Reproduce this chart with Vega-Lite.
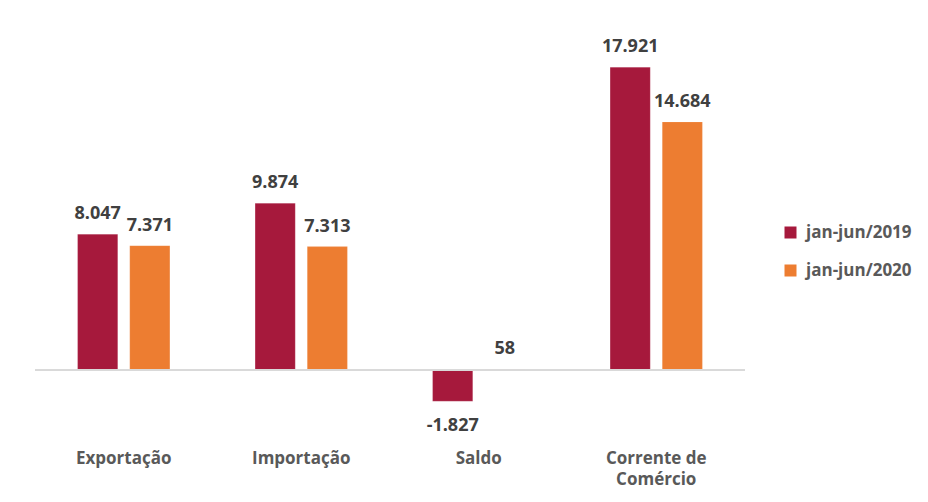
{
  "$schema": "https://vega.github.io/schema/vega-lite/v6.json",
  "autosize": "none",
  "width": 710,
  "height": 406,
  "padding": {"left": 35, "top": 32, "right": 183, "bottom": 64},
  "background": "white",
  "config": {
    "view": {"stroke": null},
    "font": "Open Sans",
    "locale": {"number": {"decimal": ",", "thousands": ".", "grouping": [3], "currency": ["R$", ""], "minus": "-"}}
  },
  "data": {
    "values": [
      {"categoria": "Exportação", "periodo": "jan-jun/2019", "valor": 8047},
      {"categoria": "Exportação", "periodo": "jan-jun/2020", "valor": 7371},
      {"categoria": "Importação", "periodo": "jan-jun/2019", "valor": 9874},
      {"categoria": "Importação", "periodo": "jan-jun/2020", "valor": 7313},
      {"categoria": "Saldo", "periodo": "jan-jun/2019", "valor": -1827},
      {"categoria": "Saldo", "periodo": "jan-jun/2020", "valor": 58},
      {"categoria": "Corrente de Comércio", "periodo": "jan-jun/2019", "valor": 17921},
      {"categoria": "Corrente de Comércio", "periodo": "jan-jun/2020", "valor": 14684}
    ]
  },
  "encoding": {
    "x": {
      "field": "categoria", "type": "nominal", "sort": null,
      "scale": {"paddingInner": 0.48, "paddingOuter": 0.24},
      "axis": {
        "title": null, "domain": false, "ticks": false, "labelAngle": 0,
        "labelPadding": 12, "labelFontSize": 17, "labelFontWeight": "bold",
        "labelColor": "#595959", "labelLineHeight": 21,
        "labelExpr": "datum.label == 'Corrente de Comércio' ? ['Corrente de', 'Comércio'] : datum.label"
      }
    },
    "xOffset": {
      "field": "periodo", "type": "nominal",
      "scale": {"paddingInner": 0.23, "paddingOuter": 0}
    },
    "y": {
      "field": "valor", "type": "quantitative",
      "scale": {"domain": [-4000, 20000], "nice": false, "zero": true},
      "axis": null
    }
  },
  "layer": [
    {
      "mark": {"type": "bar", "stroke": "white", "strokeOpacity": 0.3, "strokeWidth": 0.5},
      "encoding": {
        "color": {
          "field": "periodo", "type": "nominal",
          "scale": {"domain": ["jan-jun/2019", "jan-jun/2020"], "range": ["#A6193C", "#ED7D31"]},
          "legend": {
            "title": null, "orient": "none", "legendX": 747, "legendY": 192,
            "symbolType": "square", "symbolSize": 144, "symbolStrokeWidth": 0,
            "labelFontSize": 17, "labelFontWeight": "bold", "labelColor": "#595959",
            "rowPadding": 20, "symbolOffset": 0, "labelOffset": 7
          }
        }
      }
    },
    {
      "mark": {"type": "rule", "color": "#D9D9D9", "strokeWidth": 1.5},
      "encoding": {"y": {"datum": 0}, "x": null, "xOffset": null}
    },
    {
      "transform": [{"filter": "datum.valor >= 0"}],
      "mark": {"type": "text", "baseline": "bottom", "dy": -11, "fontSize": 18, "fontWeight": "bold", "color": "#404040"},
      "encoding": {"text": {"field": "valor", "type": "quantitative", "format": ",d"}}
    },
    {
      "transform": [{"filter": "datum.valor < 0"}],
      "mark": {"type": "text", "baseline": "top", "dy": 16, "fontSize": 18, "fontWeight": "bold", "color": "#404040"},
      "encoding": {"text": {"field": "valor", "type": "quantitative", "format": ",d"}}
    }
  ]
}
